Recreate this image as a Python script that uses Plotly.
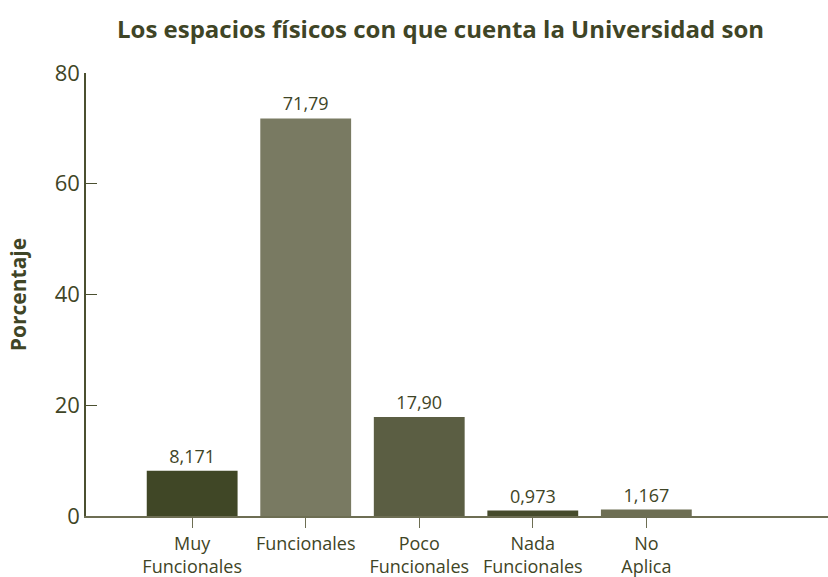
import plotly.graph_objects as go

categorias = ["Muy<br>Funcionales", "Funcionales", "Poco<br>Funcionales", "Nada<br>Funcionales", "No<br>Aplica"]
porcentajes = [8.171, 71.79, 17.90, 0.973, 1.167]
etiquetas = ["8,171", "71,79", "17,90", "0,973", "1,167"]
colores = ["#404726", "#797A62", "#5B5E43", "#464B2C", "#6D6E53"]

texto = "#3F4526"
fuente = "'Open Sans', Lato, sans-serif"

fig = go.Figure(
    go.Bar(
        x=list(range(len(categorias))),
        y=porcentajes,
        width=0.8,
        marker=dict(color=colores, line=dict(width=0)),
        text=etiquetas,
        textposition="outside",
        cliponaxis=False,
        textfont=dict(size=18, color=texto, family=fuente),
    )
)

fig.update_layout(
    width=828,
    height=577,
    paper_bgcolor="white",
    plot_bgcolor="white",
    margin=dict(l=86, r=0, t=73, b=61),
    showlegend=False,
    title=dict(
        text="<b>Los espacios físicos con que cuenta la Universidad son</b>",
        x=0.532,
        xanchor="center",
        y=0.948,
        yanchor="middle",
        font=dict(size=24, color=texto, family=fuente),
    ),
    font=dict(family=fuente, color=texto),
)

fig.update_xaxes(
    range=[-0.935, 5.6],
    tickmode="array",
    tickvals=list(range(len(categorias))),
    ticktext=categorias,
    ticks="outside",
    ticklen=10,
    tickcolor="#6D6E53",
    showline=True,
    linecolor="#6D6E53",
    linewidth=2,
    showgrid=False,
    zeroline=False,
    automargin=False,
    tickfont=dict(size=18, color=texto, family=fuente),
)

fig.update_yaxes(
    range=[0, 80],
    tickvals=[0, 20, 40, 60, 80],
    ticks="inside",
    ticklen=11,
    tickcolor="#4B5030",
    showline=True,
    linecolor="#4B5030",
    linewidth=1.5,
    showgrid=False,
    zeroline=False,
    tickfont=dict(size=22, color=texto, family=fuente),
    title=dict(text="<b>Porcentaje</b>", font=dict(size=21, color=texto, family=fuente), standoff=22),
)

fig.write_html("out.html")
